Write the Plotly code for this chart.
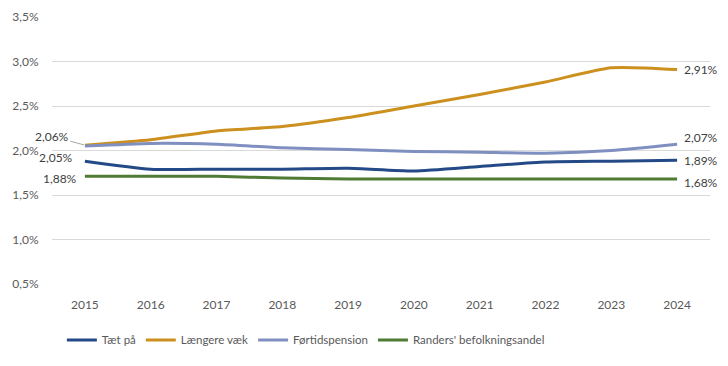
import plotly.graph_objects as go

years = [2015, 2016, 2017, 2018, 2019, 2020, 2021, 2022, 2023, 2024]
year_labels = ["2015", "2016", "2017", "2018", "2019", "2020", "2021", "2022", "2023", "2024"]
taet_paa = [1.88, 1.79, 1.79, 1.79, 1.80, 1.77, 1.82, 1.87, 1.88, 1.89]
laengere_vaek = [2.06, 2.12, 2.22, 2.27, 2.37, 2.50, 2.63, 2.77, 2.93, 2.91]
foertidspension = [2.05, 2.08, 2.07, 2.03, 2.01, 1.99, 1.98, 1.97, 2.00, 2.07]
randers_andel = [1.71, 1.71, 1.71, 1.69, 1.68, 1.68, 1.68, 1.68, 1.68, 1.68]
y_ticks = [0.5, 1.0, 1.5, 2.0, 2.5, 3.0, 3.5]
y_tick_labels = ["0,5%", "1,0%", "1,5%", "2,0%", "2,5%", "3,0%", "3,5%"]

series = [
    ("Tæt på", taet_paa, "#234A86"),
    ("Længere væk", laengere_vaek, "#CC901F"),
    ("Førtidspension", foertidspension, "#7F8FC0"),
    ("Randers' befolkningsandel", randers_andel, "#4F7B34"),
]

FONT = "Lato, sans-serif"
GREY = "#595959"

fig = go.Figure()
for name, vals, col in series:
    fig.add_trace(go.Scatter(
        x=years, y=vals, name=name, mode="lines",
        line=dict(color=col, width=3, shape="spline", smoothing=0.6),
        cliponaxis=False,
    ))

def fmt(v):
    return f"{v:.2f}".replace(".", ",") + "%"

ann = []
ann.append(dict(x=years[0], y=laengere_vaek[0], text=fmt(laengere_vaek[0]),
                showarrow=True, ax=-33, ay=-9, arrowhead=0, arrowwidth=1,
                arrowcolor="#A6A6A6", standoff=1))
ann.append(dict(x=years[0], y=foertidspension[0], text=fmt(foertidspension[0]),
                showarrow=False, xanchor="right", xshift=-10, yshift=-11))
ann.append(dict(x=years[0], y=taet_paa[0], text=fmt(taet_paa[0]),
                showarrow=False, xanchor="right", xshift=-6, yshift=-17))
ann.append(dict(x=years[-1], y=laengere_vaek[-1], text=fmt(laengere_vaek[-1]),
                showarrow=False, xanchor="left", xshift=5, yshift=0))
ann.append(dict(x=years[-1], y=foertidspension[-1], text=fmt(foertidspension[-1]),
                showarrow=False, xanchor="left", xshift=5, yshift=7))
ann.append(dict(x=years[-1], y=taet_paa[-1], text=fmt(taet_paa[-1]),
                showarrow=False, xanchor="left", xshift=5, yshift=0))
ann.append(dict(x=years[-1], y=randers_andel[-1], text=fmt(randers_andel[-1]),
                showarrow=False, xanchor="left", xshift=5, yshift=-4))

fig.update_layout(
    width=728, height=366,
    margin=dict(l=52, r=18, t=17, b=76),
    paper_bgcolor="white", plot_bgcolor="white",
    font=dict(family=FONT, size=12, color=GREY),
    showlegend=True,
    legend=dict(orientation="h", x=0.015, xanchor="left", y=-0.155, yanchor="top",
                font=dict(family=FONT, size=11.5, color=GREY),
                itemwidth=30, traceorder="normal"),
    xaxis=dict(type="linear", range=[2014.5, 2024.5], tickmode="array",
               tickvals=years, ticktext=year_labels,
               showgrid=False, zeroline=False, showline=False,
               ticks="outside", ticklen=10, tickcolor="rgba(0,0,0,0)", automargin=False,
               tickfont=dict(size=12, color=GREY)),
    yaxis=dict(range=[0.5, 3.5], tickmode="array", tickvals=y_ticks, ticktext=y_tick_labels,
               showgrid=True, gridcolor="#D9D9D9", gridwidth=1, zeroline=False,
               showline=False, ticks="outside", ticklen=10, tickcolor="rgba(0,0,0,0)",
               automargin=False, tickfont=dict(size=12, color=GREY)),
)
for a in ann:
    a["font"] = dict(family=FONT, size=12, color="#404040")
    fig.add_annotation(**a)

fig.write_html("out.html", config={"displayModeBar": False},
               post_script="document.body.style.margin='0px';")
